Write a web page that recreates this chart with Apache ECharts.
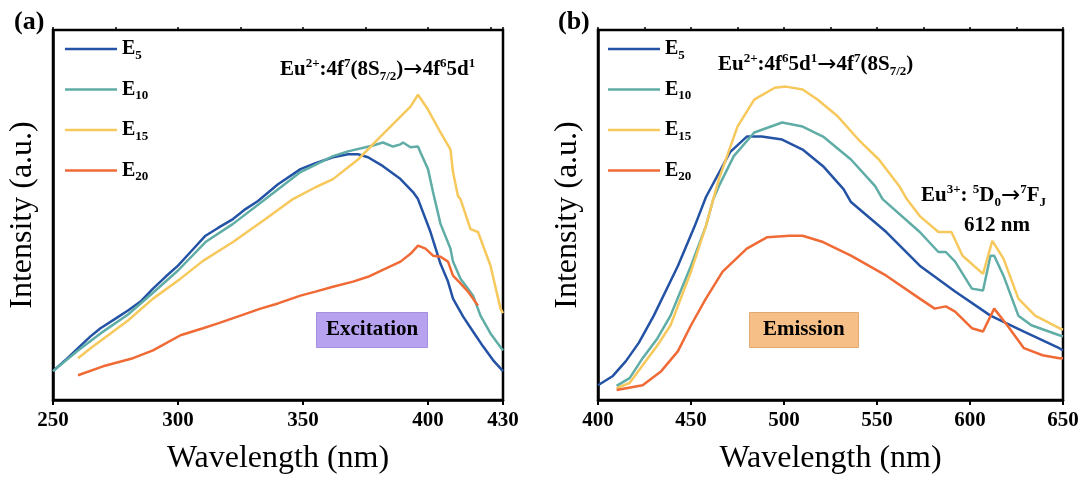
<!DOCTYPE html>
<html><head><meta charset="utf-8">
<script src="https://cdn.jsdelivr.net/npm/echarts@6/dist/echarts.min.js"></script>
<style>html,body{margin:0;padding:0;background:#fff}#c{width:1083px;height:480px}</style>
</head><body><div id="c"></div>
<script>
// ---- Data ----
const seriesNames = ['E5', 'E10', 'E15', 'E20'];
const xTicksA = [250, 300, 350, 400, 430];
const xTicksB = [400, 450, 500, 550, 600, 650];

// Panel (a): excitation spectra
const exE5X = [250,255,260,265,269,275,280,285,290,295,300,305,311,316,322,327,332,340,349,355,362,368,372,376,382,389,394,396,401,405,408,410,414,418,422,426,430];
const exE5Y = [7.8,10.8,14,17.2,19.4,22,24.2,26.6,30.1,33.3,36.3,40,44.4,46.5,48.9,51.6,53.8,58.3,62.4,64,65.6,66.4,66.4,65.6,63.2,59.7,56.2,54.3,45.4,36.8,32,27.4,22.6,18.5,14.5,10.8,7.8];
const exE10X = [250,260,269,280,290,300,311,322,335,349,362,368,375,378,382,386,389,390,393,396,397,400,402,405,409,410,413,416,418,421,425,430];
const exE10Y = [7.8,13.4,18,23.1,29,35,42.7,47.6,54.3,61.6,65.9,67.2,68.3,68.8,69.6,68.5,69.1,69.6,68.3,68.5,66.9,62.4,56.2,47.6,40.9,37.4,32.8,30.1,28.2,22.8,18,13.4];
const exE15X = [260,265,273,280,290,301,310,322,335,346,355,362,372,381,389,393,396,400,405,409,410,412,413,417,420,425,429,430];
const exE15Y = [11.3,14,18,21.5,27.4,32.8,37.6,42.7,48.9,54.3,57.5,59.7,65,71.2,76.6,79.3,82.5,78.5,72.3,67.7,61.6,55.1,54.3,46.2,45.4,36.3,24.7,23.5];
const exE20X = [260,270,282,290,301,310,316,325,333,340,349,355,362,370,376,383,389,393,396,399,402,405,408,410,413,416,420];
const exE20Y = [6.7,9.1,11.3,13.4,17.5,19.4,20.7,22.8,24.7,26.1,28.2,29.3,30.6,32,33.3,35.5,37.4,39.5,41.7,40.9,39,38.7,37.4,33.6,31.5,29.3,25.5];

// Panel (b): emission spectra
const emE5X = [400,408,415,422,430,443,452,458,471,480,488,499,510,521,532,536,555,573,592,611,629,648,650];
const emE5Y = [4,6.5,10.5,15.5,22.8,36.3,47,54.8,67,71.2,71.2,70.4,67.7,63.2,57,53.5,45.4,36.3,29.3,22.8,18.5,14,13.4];
const emE10X = [410,417,424,432,439,450,458,462,465,473,484,499,510,521,536,549,553,573,583,587,592,601,607,611,613,618,626,633,648,650];
const emE10Y = [3.8,5.9,11.3,16.7,22.8,36.3,47,54.3,57.8,65.9,72.3,75,73.9,71.2,65,57.8,54.3,45.4,40,40,37.4,30.1,29.6,39,39,33.6,22.8,20.2,17.5,17.2];
const emE15X = [410,417,424,432,439,450,458,462,465,475,484,495,501,510,518,529,540,551,562,566,573,583,590,596,607,612,618,626,635,648,650];
const emE15Y = [3.2,4.6,9.4,14.8,20.2,34.7,47,54.3,59.7,73.9,81.2,84.4,84.7,83.9,81.2,76.6,70.4,65,57.8,54.3,49.7,45.4,45.4,39,34.1,43,38.2,27.4,22.8,19.4,19];
const emE20X = [410,424,434,443,450,458,467,480,491,503,510,521,536,555,573,581,587,592,601,607,613,620,629,639,648,650];
const emE20Y = [2.7,4,7.8,13.2,20.2,27.4,34.7,40.9,44,44.4,44.4,42.7,39,33.6,27.4,24.7,25.3,23.9,19.4,18.5,24.7,20.2,14,12.1,11.3,11.3];

const colors = ['#2453a6', '#5fada6', '#f7c85c', '#f06a36'];

// ---- Chart ----
const FONT = "'Liberation Serif','Times New Roman',serif";
const zip = (xs, ys) => xs.map((x, i) => [x, ys[i]]);
const excX = [exE5X, exE10X, exE15X, exE20X], excY = [exE5Y, exE10Y, exE15Y, exE20Y];
const emX = [emE5X, emE10X, emE15X, emE20X], emY = [emE5Y, emE10Y, emE15Y, emE20Y];

const baseRich = {
  m: {fontSize: 21, fontWeight: 'bold', fontFamily: FONT, color: '#000', lineHeight: 26},
  ar: {fontSize: 23, fontWeight: 'normal', fontFamily: "'DejaVu Sans'", color: '#000', lineHeight: 26},
  sp: {fontSize: 13, fontWeight: 'bold', fontFamily: FONT, color: '#000', lineHeight: 13, verticalAlign: 'top'},
  sb: {fontSize: 13, fontWeight: 'bold', fontFamily: FONT, color: '#000', lineHeight: 13, verticalAlign: 'bottom'}
};
const legendRich = {
  m: {fontSize: 20, fontWeight: 'bold', fontFamily: FONT, color: '#000', lineHeight: 26},
  s: {fontSize: 13, fontWeight: 'bold', fontFamily: FONT, color: '#000', lineHeight: 13, verticalAlign: 'bottom'}
};

function xAxisMain(grid, min, max) {
  return {
    type: 'value', gridIndex: grid, min: min, max: max, interval: 50,
    axisLine: {show: true, lineStyle: {color: '#000', width: 2.5}},
    axisTick: {show: true, length: 5, lineStyle: {color: '#000', width: 2}},
    minorTick: {show: false},
    splitLine: {show: false},
    axisLabel: {show: true, showMaxLabel: true, showMinLabel: true, margin: 10, color: '#000', fontSize: 21, fontWeight: 'bold', fontFamily: FONT},
    name: 'Wavelength (nm)', nameLocation: 'middle', nameGap: 43,
    nameTextStyle: {fontSize: 32, fontFamily: FONT, color: '#000'}
  };
}
function xAxisMinor(grid, min, max) {
  return {
    type: 'value', gridIndex: grid, min: min, max: max, interval: 25,
    axisLine: {show: false}, axisLabel: {show: false}, splitLine: {show: false},
    axisTick: {show: true, length: 3, lineStyle: {color: '#000', width: 1.5}}
  };
}
function yAxis(grid) {
  return {
    type: 'value', gridIndex: grid, min: 0, max: 100,
    axisLine: {show: true, lineStyle: {color: '#000', width: 2.5}},
    axisTick: {show: false}, axisLabel: {show: false}, splitLine: {show: false},
    name: 'Intensity (a.u.)', nameLocation: 'middle', nameGap: 14,
    nameTextStyle: {fontSize: 32, fontFamily: FONT, color: '#000'}
  };
}

const series = [];
seriesNames.forEach((n, i) => {
  series.push({name: n, type: 'line', xAxisIndex: 0, yAxisIndex: 0, data: zip(excX[i], excY[i]),
    symbol: 'none', lineStyle: {width: 2.5, color: colors[i]}, itemStyle: {color: colors[i]}, z: 3});
});
seriesNames.forEach((n, i) => {
  series.push({name: n, type: 'line', xAxisIndex: 1, yAxisIndex: 1, data: zip(emX[i], emY[i]),
    symbol: 'none', lineStyle: {width: 2.5, color: colors[i]}, itemStyle: {color: colors[i]}, z: 3});
});

function legend(left) {
  return {
    left: left, top: 34, orient: 'vertical', itemWidth: 52, itemHeight: 14, itemGap: 17.5,
    data: seriesNames, icon: 'path://M0,6 L52,6 L52,8.5 L0,8.5 Z',
    formatter: n => '{m|E}{s|' + n.slice(1) + '}',
    textStyle: {rich: legendRich}, selectedMode: false
  };
}

const option = {
  animation: false,
  backgroundColor: '#fff',
  grid: [
    {left: 53, right: 580, top: 30, bottom: 78, show: true, borderColor: '#000', borderWidth: 2.5, backgroundColor: 'transparent'},
    {left: 598, right: 20, top: 30, bottom: 78, show: true, borderColor: '#000', borderWidth: 2.5, backgroundColor: 'transparent'}
  ],
  xAxis: [xAxisMain(0, xTicksA[0], xTicksA[xTicksA.length - 1]), xAxisMain(1, xTicksB[0], xTicksB[xTicksB.length - 1]),
          xAxisMinor(0, xTicksA[0], xTicksA[xTicksA.length - 1]), xAxisMinor(1, xTicksB[0], xTicksB[xTicksB.length - 1])],
  yAxis: [yAxis(0), yAxis(1)],
  legend: [legend(60), legend(603)],
  title: [
    {text: '(a)', left: 9, top: 4, textStyle: {fontSize: 26, fontWeight: 'bold', fontFamily: FONT, color: '#000'}},
    {text: '(b)', left: 553, top: 4, textStyle: {fontSize: 26, fontWeight: 'bold', fontFamily: FONT, color: '#000'}},
    {text: '{m|Eu}{sp|2+}{m|:4f}{sp|7}{m|(8S}{sb|7/2}{m|)}{ar|→}{m|4f}{sp|6}{m|5d}{sp|1}', left: 280, top: 57, padding: 0, textStyle: {rich: baseRich}},
    {text: '{m|Eu}{sp|2+}{m|:4f}{sp|6}{m|5d}{sp|1}{ar|→}{m|4f}{sp|7}{m|(8S}{sb|7/2}{m|)}', left: 718, top: 52, padding: 0, textStyle: {rich: baseRich}},
    {text: '{m|Eu}{sp|3+}{m|: }{sp|5}{m|D}{sb|0}{ar|→}{sp|7}{m|F}{sb|J}', left: 921, top: 183, padding: 0, textStyle: {rich: baseRich}},
    {text: '{m|612 nm}', left: 964, top: 213, padding: 0, textStyle: {rich: baseRich}},
    {text: 'Excitation', left: 316, top: 312, padding: [6, 10, 6, 10], backgroundColor: '#b7a2f0', borderColor: '#a390dc', borderWidth: 1,
      textStyle: {fontSize: 21, fontWeight: 'bold', fontFamily: FONT, color: '#000', lineHeight: 24}},
    {text: 'Emission', left: 749, top: 312, padding: [6, 14, 6, 14], backgroundColor: '#f5bf87', borderColor: '#e2aa72', borderWidth: 1,
      textStyle: {fontSize: 21, fontWeight: 'bold', fontFamily: FONT, color: '#000', lineHeight: 24}}
  ],
  series: series
};
const chart = echarts.init(document.getElementById('c'), null, {renderer: 'canvas'});
chart.setOption(option);
</script></body></html>
